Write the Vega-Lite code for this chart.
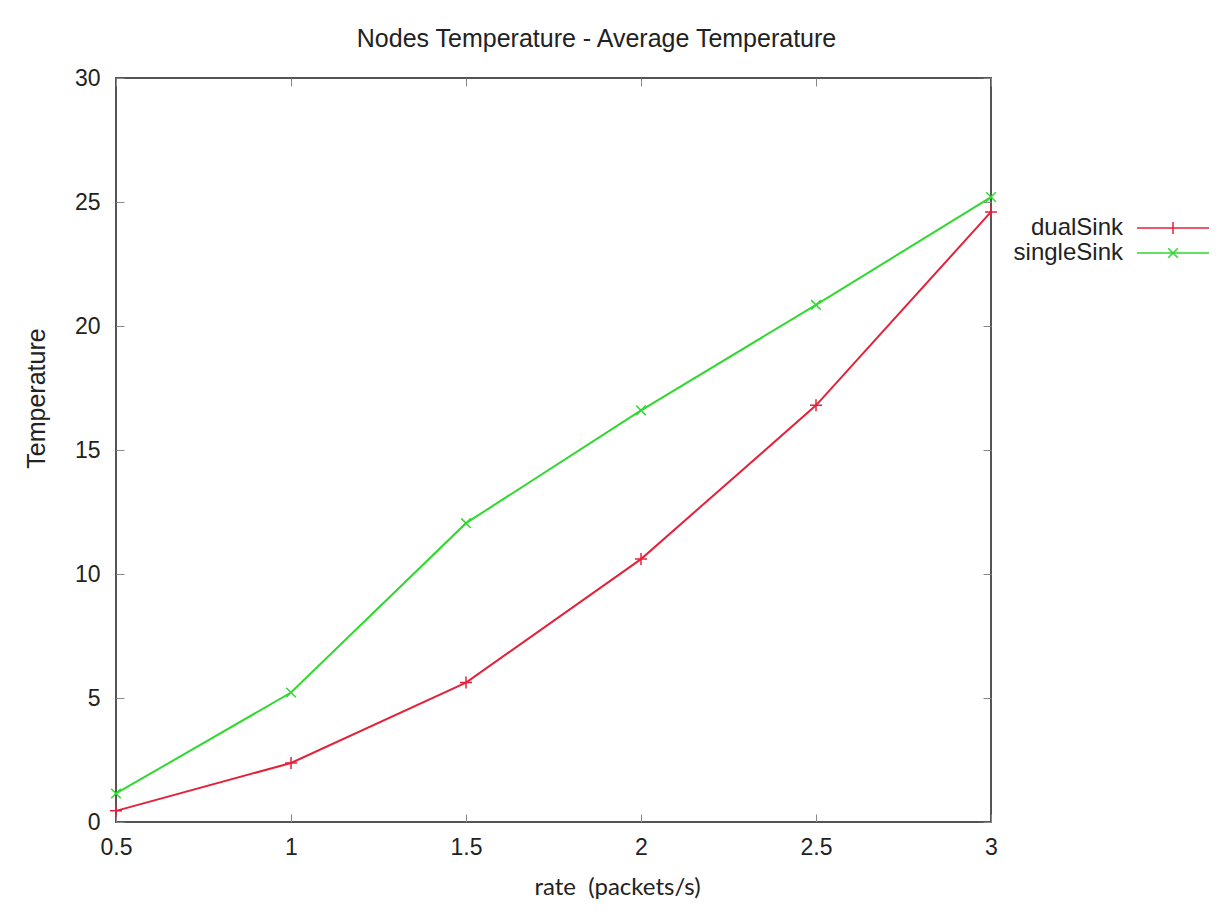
{
  "$schema": "https://vega.github.io/schema/vega-lite/v6.json",
  "width": 875,
  "height": 744,
  "autosize": {"type": "none"},
  "padding": {"left": 116, "top": 78, "right": 232, "bottom": 93},
  "background": "white",
  "title": {
    "text": "Nodes Temperature - Average Temperature",
    "font": "Liberation Sans",
    "fontSize": 25,
    "fontWeight": "normal",
    "color": "#222222",
    "anchor": "middle",
    "frame": "group",
    "dx": 43,
    "offset": 15
  },
  "config": {
    "view": {"stroke": "#555555", "strokeWidth": 2},
    "axis": {
      "grid": false,
      "domain": false,
      "tickColor": "#888888",
      "tickWidth": 1,
      "tickSize": -8,
      "labelFont": "Liberation Sans",
      "labelFontSize": 23,
      "labelColor": "#222222",
      "labelFlush": false,
      "titleColor": "#222222",
      "titleFontWeight": "normal"
    }
  },
  "data": {
    "values": [
      {"rate": 0.5, "temp": 0.45, "series": "dualSink"},
      {"rate": 1.0, "temp": 2.38, "series": "dualSink"},
      {"rate": 1.5, "temp": 5.62, "series": "dualSink"},
      {"rate": 2.0, "temp": 10.6, "series": "dualSink"},
      {"rate": 2.5, "temp": 16.8, "series": "dualSink"},
      {"rate": 3.0, "temp": 24.6, "series": "dualSink"},
      {"rate": 0.5, "temp": 1.15, "series": "singleSink"},
      {"rate": 1.0, "temp": 5.22, "series": "singleSink"},
      {"rate": 1.5, "temp": 12.05, "series": "singleSink"},
      {"rate": 2.0, "temp": 16.6, "series": "singleSink"},
      {"rate": 2.5, "temp": 20.85, "series": "singleSink"},
      {"rate": 3.0, "temp": 25.2, "series": "singleSink"}
    ]
  },
  "layer": [
    {
      "mark": {"type": "line", "strokeWidth": 2},
      "encoding": {
        "x": {
          "field": "rate",
          "type": "quantitative",
          "scale": {"domain": [0.5, 3], "nice": false, "zero": false},
          "axis": {
            "orient": "bottom",
            "values": [0.5, 1, 1.5, 2, 2.5, 3],
            "format": "~g",
            "labelPadding": 22,
            "title": "rate\u00a0 (packets/s)",
            "titleFont": "Lato",
            "titleFontSize": 24,
            "titleX": 501,
            "titleY": 72,
            "titleAlign": "center",
            "titleBaseline": "alphabetic"
          }
        },
        "y": {
          "field": "temp",
          "type": "quantitative",
          "scale": {"domain": [0, 30], "nice": false},
          "axis": {
            "orient": "left",
            "values": [0, 5, 10, 15, 20, 25, 30],
            "labelPadding": 24,
            "title": "Temperature",
            "titleFont": "Liberation Sans",
            "titleFontSize": 25,
            "titleX": -80,
            "titleY": 320,
            "titleAngle": -90,
            "titleAlign": "center",
            "titleBaseline": "middle"
          }
        },
        "color": {
          "field": "series",
          "type": "nominal",
          "scale": {"domain": ["dualSink", "singleSink"], "range": ["#e3223a", "#30d830"]},
          "legend": {
            "title": null,
            "orient": "none",
            "legendX": 1044,
            "legendY": 137,
            "labelFont": "Liberation Sans",
            "labelFontSize": 24,
            "labelColor": "#222222",
            "labelAlign": "right",
            "labelOffset": -63,
            "symbolSize": 576,
            "symbolStrokeWidth": 1.5,
            "symbolFillColor": "transparent",
            "rowPadding": 0,
            "encode": {
              "symbols": {
                "update": {
                  "shape": {"signal": "datum.value == 'dualSink' ? 'M-3,0L3,0M0,-0.5L0,0.5' : 'M-3,0L3,0M-0.4,-0.4L0.4,0.4M-0.4,0.4L0.4,-0.4'"},
                  "fill": {"value": "transparent"}
                }
              }
            }
          }
        }
      }
    },
    {
      "transform": [{"filter": "datum.series == 'dualSink'"}],
      "mark": {"type": "point", "filled": false, "size": 144, "strokeWidth": 1.5, "opacity": 1, "shape": "M-1,0L1,0M0,-1L0,1"},
      "encoding": {
        "x": {
          "field": "rate",
          "type": "quantitative",
          "axis": {"orient": "top", "values": [0.5, 1, 1.5, 2, 2.5, 3], "labels": false, "title": null}
        },
        "y": {
          "field": "temp",
          "type": "quantitative",
          "axis": {"orient": "right", "values": [0, 5, 10, 15, 20, 25, 30], "labels": false, "title": null}
        },
        "color": {"field": "series", "type": "nominal"}
      }
    },
    {
      "transform": [{"filter": "datum.series == 'singleSink'"}],
      "mark": {"type": "point", "filled": false, "size": 144, "strokeWidth": 1.5, "opacity": 1, "shape": "M-0.8,-0.8L0.8,0.8M-0.8,0.8L0.8,-0.8"},
      "encoding": {
        "x": {"field": "rate", "type": "quantitative", "axis": null},
        "y": {"field": "temp", "type": "quantitative", "axis": null},
        "color": {"field": "series", "type": "nominal"}
      }
    }
  ],
  "resolve": {"axis": {"x": "independent", "y": "independent"}}
}
